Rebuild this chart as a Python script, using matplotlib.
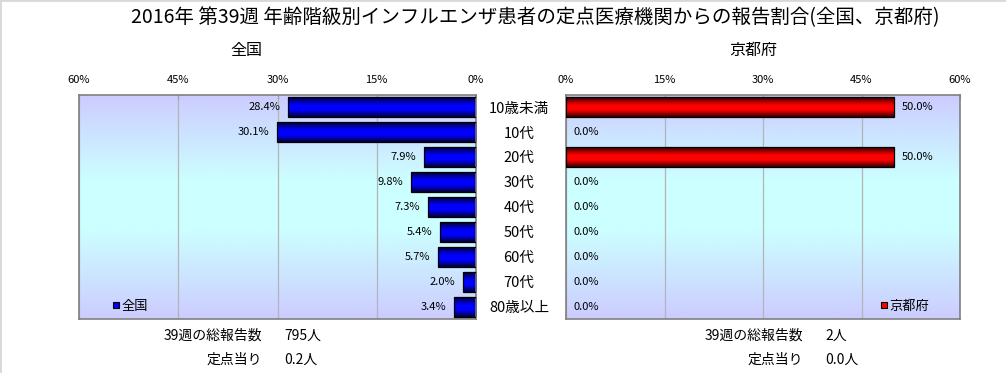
import numpy as np
import matplotlib
matplotlib.use("Agg")
import matplotlib.pyplot as plt
import matplotlib.transforms as mtransforms
from matplotlib.colors import LinearSegmentedColormap
from matplotlib.lines import Line2D

plt.rcParams['font.family'] = ['Noto Sans CJK JP', 'DejaVu Sans']

# data
title = "2016年 第39週 年齢階級別インフルエンザ患者の定点医療機関からの報告割合(全国、京都府)"
ages = ['10歳未満', '10代', '20代', '30代', '40代', '50代', '60代', '70代', '80歳以上']
zenkoku = [28.4, 30.1, 7.9, 9.8, 7.3, 5.4, 5.7, 2.0, 3.4]
kyoto = [50.0, 0.0, 50.0, 0.0, 0.0, 0.0, 0.0, 0.0, 0.0]
xticks = [0, 15, 30, 45, 60]
zen_total = "795人"
zen_per = "0.2人"
kyo_total = "2人"
kyo_per = "0.0人"

W, H = 1006, 373
fig = plt.figure(figsize=(W / 100, H / 100), dpi=100)

def fx(px):
    return px / W

def fy(py):
    return 1 - py / H

# axes boxes (pixels): left 79-476, right 566-960, top 95, bottom 319
ax_l = fig.add_axes([fx(79), fy(319), fx(476 - 79), (319 - 95) / H])
ax_r = fig.add_axes([fx(566), fy(319), fx(960 - 566), (319 - 95) / H])

bg_cmap = LinearSegmentedColormap.from_list(
    'bg', [(0, '#ccccff'), (0.38, '#ccffff'), (0.6, '#ccffff'), (1, '#ccccff')])
blue_cmap = LinearSegmentedColormap.from_list(
    'bl', [(0, '#000030'), (0.35, '#0000ff'), (0.6, '#0000ff'), (1, '#000030')])
red_cmap = LinearSegmentedColormap.from_list(
    'rd', [(0, '#300000'), (0.35, '#ff0000'), (0.6, '#ff0000'), (1, '#300000')])
grad = np.linspace(0, 1, 256).reshape(-1, 1)

ypos = np.arange(len(ages))


def panel(ax, vals, cmap, invert, legend_label, legend_color, legend_x):
    ax.imshow(grad, cmap=bg_cmap, extent=(0, 1, 0, 1), transform=ax.transAxes,
              aspect='auto', zorder=0)
    bars = ax.barh(ypos, vals, height=0.8, color='none', edgecolor='black',
                   linewidth=0.9, zorder=3)
    for b, v in zip(bars, vals):
        if v <= 0:
            b.set_linewidth(0)
            continue
        x0 = b.get_x()
        y0 = b.get_y()
        ax.imshow(grad, cmap=cmap, extent=(x0, x0 + b.get_width(), y0, y0 + b.get_height()),
                  aspect='auto', zorder=2.5)

    for i, v in enumerate(vals):
        ax.annotate(f'{v:.1f}%', xy=(v, i), xytext=(-5.5 if invert else 5.5, 0),
                    textcoords='offset points', ha='right' if invert else 'left',
                    va='center', fontsize=8, zorder=4)
    ax.set_xlim(60, 0) if invert else ax.set_xlim(0, 60)
    ax.set_ylim(len(ages) - 0.5, -0.5)
    ax.set_xticks(xticks)
    ax.set_xticklabels([f'{t}%' for t in xticks])
    ax.xaxis.tick_top()
    ax.tick_params(axis='x', direction='in', length=3, color='#a0a0a0',
                   labelsize=8, pad=7)
    ax.set_yticks([])
    ax.set_axisbelow(True)
    ax.xaxis.grid(True, color='#b4b4b4', linewidth=0.9)
    for s in ax.spines.values():
        s.set_color('#808080')
        s.set_linewidth(1.2)
    h = Line2D([], [], marker='s', ls='none', mfc=legend_color, mec='black',
               ms=5, mew=0.8)
    ax.legend([h], [legend_label], loc='center left', bbox_to_anchor=(legend_x, 0.058),
              frameon=False, fontsize=9.5, handlelength=0.5, handletextpad=0.15,
              borderpad=0, borderaxespad=0)


panel(ax_l, zenkoku, blue_cmap, True, '全国', '#0000ff', 0.085)
panel(ax_r, kyoto, red_cmap, False, '京都府', '#ff0000', 0.80)

# category labels between panels
trans = mtransforms.blended_transform_factory(fig.transFigure, ax_r.transData)
for i, a in enumerate(ages):
    ax_r.text(fx(519), i + 0.05, a, transform=trans, ha='center', va='center',
              fontsize=10.5)

fig.text(fx(535), fy(18), title, ha='center', va='center', fontsize=14)
fig.text(fx(246), fy(50), '全国', ha='center', va='center', fontsize=11.5)
fig.text(fx(753), fy(50), '京都府', ha='center', va='center', fontsize=11.5)

fig.text(fx(262), fy(336), '39週の総報告数', ha='right', va='center', fontsize=10)
fig.text(fx(284), fy(336), zen_total, ha='left', va='center', fontsize=10)
fig.text(fx(262), fy(360), '定点当り', ha='right', va='center', fontsize=10)
fig.text(fx(284), fy(360), zen_per, ha='left', va='center', fontsize=10)

fig.text(fx(803), fy(336), '39週の総報告数', ha='right', va='center', fontsize=10)
fig.text(fx(825), fy(336), kyo_total, ha='left', va='center', fontsize=10)
fig.text(fx(803), fy(360), '定点当り', ha='right', va='center', fontsize=10)
fig.text(fx(825), fy(360), kyo_per, ha='left', va='center', fontsize=10)

# thin frame lines at the top and left edges
fig.add_artist(Line2D([0, 1], [1, 1], transform=fig.transFigure, color='#d8d8d8', lw=2))
fig.add_artist(Line2D([0, 0], [0, 1], transform=fig.transFigure, color='#d8d8d8', lw=2))

fig.savefig('out.png', dpi=100)
